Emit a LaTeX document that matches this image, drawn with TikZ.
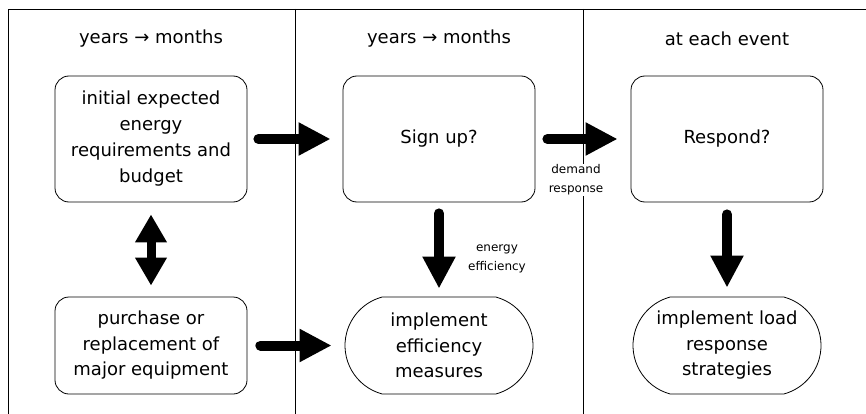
\documentclass[tikz,border=0pt]{standalone}
\usepackage{fontspec}
\setmainfont{DejaVu Sans}
\usetikzlibrary{arrows.meta,shapes.misc}
\tikzset{
  frameline/.style={line width=0.9pt},
  head/.style={font={\fontsize{18}{26}\selectfont}, inner sep=0pt},
  boxstyle/.style={draw, line width=0.8pt, rounded corners=14pt, minimum width=192pt, align=center, inner sep=2pt, font={\fontsize{18}{26}\selectfont}},
  stadium/.style={draw, line width=0.8pt, rounded rectangle, rounded rectangle arc length=150, minimum width=192pt, minimum height=97pt, align=center, inner sep=2pt, font={\fontsize{18}{25.5}\selectfont}},
  bigarrow/.style={line width=10pt, line cap=round, -{Triangle[length=32pt,width=31pt]}},
  dblarrow/.style={line width=9pt, {Triangle[length=28pt,width=30pt]}-{Triangle[length=28pt,width=30pt]}},
  smalllabel/.style={font={\fontsize{12}{19}\selectfont}, align=center, fill=white, inner sep=1pt}
}
\begin{document}
\begin{tikzpicture}[x=1pt,y=-1pt]
\useasboundingbox (0,0) rectangle (866,414);
% frame
\coordinate (tl) at (8,9);
\coordinate (tr) at (866,9);
\coordinate (bl) at (8,414);
\coordinate (d1t) at (295,9);
\coordinate (d1b) at (295,414);
\coordinate (d2t) at (583,9);
\coordinate (d2b) at (583,414);
\draw[frameline] (bl) -- (tl) -- (tr);
\draw[frameline] (d1t) -- (d1b);
\draw[frameline] (d2t) -- (d2b);
% headers
\node[head] (h1) at (151,39) {years → months};
\node[head] (h2) at (439,39) {years → months};
\node[head] (h3) at (727,39) {at each event};
% boxes
\node[boxstyle, minimum height=126pt] (b1) at (151,139) {initial expected\\energy\\requirements and\\budget};
\node[boxstyle, minimum height=126pt] (b2) at (439,139) {Sign up?};
\node[boxstyle, minimum height=126pt] (b3) at (727,139) {Respond?};
\node[boxstyle, minimum height=97pt, font={\fontsize{18}{25.5}\selectfont}] (p1) at (151,345.5) {purchase or\\replacement of\\major equipment};
\node[stadium] (e2) at (439,345.5) {implement\\efficiency\\measures};
\node[stadium] (e3) at (727,345.5) {implement load\\response\\strategies};
% arrows
\draw[bigarrow, shorten <=11pt, shorten >=12pt] (b1.east) -- (b2.west);
\draw[bigarrow, shorten <=12pt, shorten >=13pt] (b2.east) -- (b3.west);
\draw[bigarrow, shorten <=13pt, shorten >=13pt] (p1.east) -- (e2.west);
\draw[dblarrow, shorten <=12pt, shorten >=11pt] (b1.south) -- (p1.north);
\draw[bigarrow, shorten <=11pt, shorten >=8pt] (b2.south) -- (e2.north);
\draw[bigarrow, shorten <=12pt, shorten >=9pt] (b3.south) -- (e3.north);
% labels
\node[smalllabel] (lbl1) at (576,180) {demand\\response};
\node[smalllabel] (lbl2) at (497,259) {energy\\efficiency};
\end{tikzpicture}
\end{document}
